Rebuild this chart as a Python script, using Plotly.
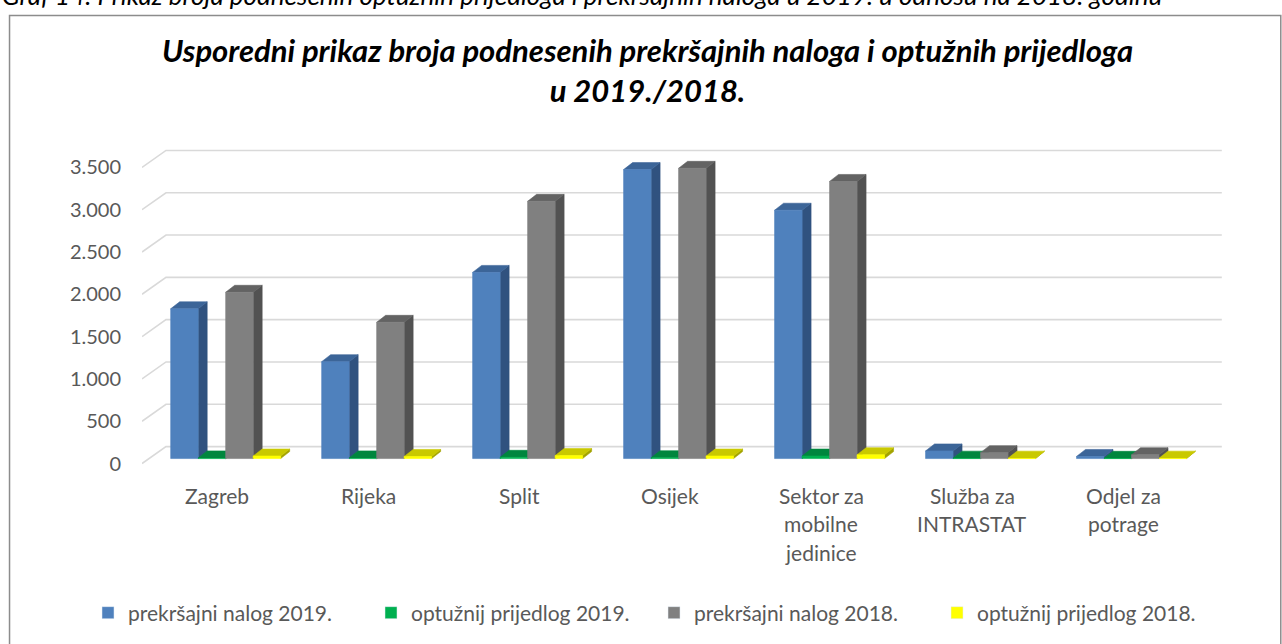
import plotly.graph_objects as go

# ---------------- data ----------------
categories = ["Zagreb", "Rijeka", "Split", "Osijek", "Sektor za<br>mobilne<br>jedinice",
              "Služba za<br>INTRASTAT", "Odjel za<br>potrage"]
prekrsajni_2019 = [1770, 1145, 2200, 3415, 2935, 90, 25]
optuzni_2019 = [8, 8, 15, 10, 30, 5, 3]
prekrsajni_2018 = [1965, 1610, 3040, 3430, 3275, 70, 45]
optuzni_2018 = [30, 25, 35, 30, 45, 5, 5]
series_names = ["prekršajni nalog 2019.", "optužnij prijedlog 2019.",
                "prekršajni nalog 2018.", "optužnij prijedlog 2018."]
y_ticks = [0, 500, 1000, 1500, 2000, 2500, 3000, 3500]

title_text = "Usporedni prikaz broja podnesenih prekršajnih naloga i optužnih prijedloga<br>u 2019./2018."
caption_text = "Graf 14. Prikaz broja podnesenih optužnih prijedloga i prekršajnih naloga u 2019. u odnosu na 2018. godinu"

# ---------------- styling ----------------
W, H = 1282, 644
ML, MT, MB = 142, 142, 171
PX_PER_X = 151.0
X_RANGE = [-0.5, 6.7]
Y_RANGE = [-100, 3800]
plot_w = PX_PER_X * (X_RANGE[1] - X_RANGE[0])
plot_h = H - MT - MB
PX_PER_Y = plot_h / (Y_RANGE[1] - Y_RANGE[0])
MR = W - ML - plot_w

FONT = "Lato"
TXT = "#595959"

# face colours: (front, side, top)
colors = [
    ("#4F81BD", "#30527F", "#3C6598"),
    ("#00B050", "#006B30", "#00863E"),
    ("#808080", "#525252", "#636363"),
    ("#FFFF00", "#A3A300", "#C9C900"),
]
legend_colors = ["#4F81BD", "#00B050", "#808080", "#FFFF00"]

# 3-D geometry (pixels converted to data units)
PITCH = 27.5 / PX_PER_X
OFF0 = -0.31
BASE = 5 / PX_PER_Y
BDX = 9 / PX_PER_X
BDY = 7 / PX_PER_Y
GDX = 24 / PX_PER_X
GDY = 17 / PX_PER_Y
GX_END = (1222 - ML) / PX_PER_X + X_RANGE[0]

fig = go.Figure()

all_series = [prekrsajni_2019, optuzni_2019, prekrsajni_2018, optuzni_2018]
for i, vals in enumerate(all_series):
    fx, fy, sx, sy, tx, ty = [], [], [], [], [], []
    for k, v in enumerate(vals):
        xl = k + OFF0 + i * PITCH
        xr = xl + PITCH
        yb = BASE
        yt = BASE + v
        fx += [xl, xr, xr, xl, xl, None]
        fy += [yb, yb, yt, yt, yb, None]
        sx += [xr, xr + BDX, xr + BDX, xr, xr, None]
        sy += [yb, yb + BDY, yt + BDY, yt, yb, None]
        tx += [xl, xr, xr + BDX, xl + BDX, xl, None]
        ty += [yt, yt, yt + BDY, yt + BDY, yt, None]
    front, side, top = colors[i]
    for xs, ys, c in ((sx, sy, side), (tx, ty, top), (fx, fy, front)):
        fig.add_trace(go.Scatter(x=xs, y=ys, mode="lines", fill="toself", fillcolor=c,
                                 line=dict(color=c, width=0.6), hoverinfo="skip",
                                 showlegend=False))

# legend entries
for name, c in zip(series_names, legend_colors):
    fig.add_trace(go.Bar(x=[None], y=[None], name=name, marker_color=c, showlegend=True))

# back-wall gridlines with side diagonals
shapes = []
for v in y_ticks:
    shapes.append(dict(type="path", xref="x", yref="y", layer="below",
                       path=f"M{X_RANGE[0]},{v} L{X_RANGE[0] + GDX},{v + GDY} L{GX_END},{v + GDY}",
                       line=dict(color="#D9D9D9", width=1.6)))


def px_to_paper_x(px):
    return (px - ML) / plot_w


def px_to_paper_y(py):
    return (H - MB - py) / plot_h


# chart frame
shapes.append(dict(type="rect", xref="paper", yref="paper", layer="above",
                   x0=px_to_paper_x(9.5), x1=px_to_paper_x(1281), y0=px_to_paper_y(15), y1=px_to_paper_y(670),
                   line=dict(color="#8C8C8C", width=1.5), fillcolor="rgba(0,0,0,0)"))

annotations = []
for k, lab in enumerate(categories):
    for j, line in enumerate(lab.split("<br>")):
        annotations.append(dict(x=k, y=0, xref="x", yref="paper", text=line, showarrow=False,
                                xanchor="center", yanchor="middle",
                                yshift=-(496 - (H - MB)) - 28.5 * j,
                                font=dict(family=FONT, size=21, color=TXT)))
# title
annotations.append(dict(x=px_to_paper_x(648), y=px_to_paper_y(70), xref="paper", yref="paper",
                        text=f"<b><i>{title_text}</i></b>", showarrow=False,
                        xanchor="center", yanchor="middle", align="center",
                        font=dict(family=FONT, size=31, color="#000000")))
# cropped caption above the chart
annotations.append(dict(x=px_to_paper_x(0), y=px_to_paper_y(-5), xref="paper", yref="paper",
                        text=f"<i>{caption_text}</i>", showarrow=False, xanchor="left", yanchor="middle",
                        font=dict(family=FONT, size=26, color="#000000")))

fig.update_layout(
    width=W, height=H, autosize=False,
    margin=dict(l=ML, r=MR, t=MT, b=MB, pad=0),
    paper_bgcolor="white", plot_bgcolor="white",
    separators=",.",
    xaxis=dict(range=X_RANGE, showgrid=False, zeroline=False, showticklabels=False,
               showline=False, fixedrange=True),
    yaxis=dict(range=Y_RANGE, tickvals=y_ticks, tickformat=",", showgrid=False, zeroline=False,
               showline=False, ticks="", ticklabelstandoff=20,
               tickfont=dict(family=FONT, size=20, color=TXT)),
    legend=dict(orientation="h", x=px_to_paper_x(88), xanchor="left", y=px_to_paper_y(613),
                yanchor="middle", entrywidth=238, entrywidthmode="pixels",
                font=dict(family=FONT, size=21, color=TXT), bgcolor="rgba(0,0,0,0)"),
    shapes=shapes, annotations=annotations,
    barmode="overlay",
)

fig.write_html("out.html", config={"displayModeBar": False},
               post_script="document.body.style.margin='0';document.body.style.overflow='hidden';")
